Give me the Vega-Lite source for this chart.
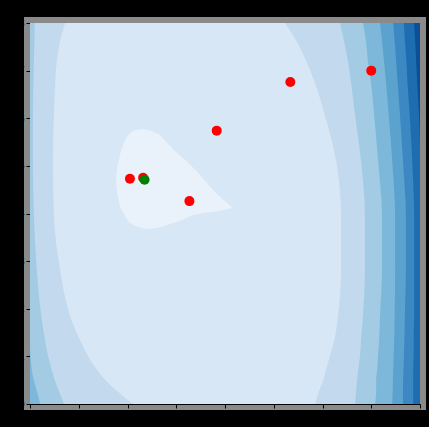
{
  "$schema": "https://vega.github.io/schema/vega-lite/v6.json",
  "width": 390,
  "height": 381,
  "autosize": {"type": "none"},
  "padding": {"left": 30, "top": 23, "right": 9, "bottom": 23},
  "background": "#000000",
  "title": {"text": "Objective surface with simplex points", "color": "#000000", "fontSize": 12, "fontWeight": "normal", "offset": 3},
  "config": {
    "view": {"stroke": "#8a8a8a", "strokeWidth": 12, "fill": "#0c4f97"},
    "axis": {"domainColor": "#000000", "tickColor": "#000000", "labelColor": "#000000", "tickSize": 4, "grid": false, "zindex": 1, "labelFontSize": 10}
  },
  "datasets": {
    "contours": [
      {"level": 8, "y": 8.0, "xl": 0, "xr": 8.1},
      {"level": 8, "y": 0.0, "xl": 0, "xr": 8.1},
      {"level": 7, "y": 8.0, "xl": 0, "xr": 7.88},
      {"level": 7, "y": 7.63, "xl": 0, "xr": 7.90},
      {"level": 7, "y": 7.21, "xl": 0, "xr": 7.92},
      {"level": 7, "y": 6.79, "xl": 0, "xr": 7.94},
      {"level": 7, "y": 6.06, "xl": 0, "xr": 7.98},
      {"level": 7, "y": 5.11, "xl": 0, "xr": 8.01},
      {"level": 7, "y": 3.96, "xl": 0, "xr": 8.05},
      {"level": 7, "y": 0.0, "xl": 0, "xr": 8.05},
      {"level": 6, "y": 8.0, "xl": 0, "xr": 7.67},
      {"level": 6, "y": 7.63, "xl": 0, "xr": 7.69},
      {"level": 6, "y": 7.21, "xl": 0, "xr": 7.72},
      {"level": 6, "y": 6.79, "xl": 0, "xr": 7.74},
      {"level": 6, "y": 6.06, "xl": 0, "xr": 7.79},
      {"level": 6, "y": 5.11, "xl": 0, "xr": 7.84},
      {"level": 6, "y": 3.96, "xl": 0, "xr": 7.88},
      {"level": 6, "y": 2.80, "xl": 0, "xr": 7.88},
      {"level": 6, "y": 1.86, "xl": 0, "xr": 7.88},
      {"level": 6, "y": 1.33, "xl": 0, "xr": 7.87},
      {"level": 6, "y": 1.01, "xl": 0, "xr": 7.87},
      {"level": 6, "y": 0.70, "xl": 0, "xr": 7.86},
      {"level": 6, "y": 0.0, "xl": 0, "xr": 7.86},
      {"level": 5, "y": 8.0, "xl": 0, "xr": 7.45},
      {"level": 5, "y": 7.63, "xl": 0, "xr": 7.48},
      {"level": 5, "y": 7.21, "xl": 0, "xr": 7.51},
      {"level": 5, "y": 6.79, "xl": 0, "xr": 7.54},
      {"level": 5, "y": 6.06, "xl": 0, "xr": 7.59},
      {"level": 5, "y": 5.11, "xl": 0, "xr": 7.65},
      {"level": 5, "y": 3.96, "xl": 0, "xr": 7.71},
      {"level": 5, "y": 2.80, "xl": 0, "xr": 7.71},
      {"level": 5, "y": 1.86, "xl": 0, "xr": 7.69},
      {"level": 5, "y": 1.33, "xl": 0, "xr": 7.68},
      {"level": 5, "y": 1.01, "xl": 0, "xr": 7.67},
      {"level": 5, "y": 0.70, "xl": 0, "xr": 7.66},
      {"level": 5, "y": 0.28, "xl": 0, "xr": 7.65},
      {"level": 5, "y": 0.0, "xl": 0, "xr": 7.65},
      {"level": 4, "y": 8.0, "xl": 0, "xr": 7.18},
      {"level": 4, "y": 7.63, "xl": 0, "xr": 7.22},
      {"level": 4, "y": 7.21, "xl": 0, "xr": 7.26},
      {"level": 4, "y": 6.79, "xl": 0, "xr": 7.30},
      {"level": 4, "y": 6.06, "xl": 0, "xr": 7.36},
      {"level": 4, "y": 5.11, "xl": 0, "xr": 7.43},
      {"level": 4, "y": 3.96, "xl": 0, "xr": 7.49},
      {"level": 4, "y": 2.80, "xl": 0, "xr": 7.49},
      {"level": 4, "y": 1.86, "xl": 0, "xr": 7.48},
      {"level": 4, "y": 1.33, "xl": 0, "xr": 7.47},
      {"level": 4, "y": 1.01, "xl": 0, "xr": 7.46},
      {"level": 4, "y": 0.70, "xl": 0, "xr": 7.45},
      {"level": 4, "y": 0.28, "xl": 0, "xr": 7.44},
      {"level": 4, "y": 0.0, "xl": 0, "xr": 7.43},
      {"level": 3, "y": 8.0, "xl": 0, "xr": 6.83},
      {"level": 3, "y": 7.63, "xl": 0, "xr": 6.89},
      {"level": 3, "y": 7.21, "xl": 0, "xr": 6.93},
      {"level": 3, "y": 6.79, "xl": 0, "xr": 6.99},
      {"level": 3, "y": 6.06, "xl": 0, "xr": 7.06},
      {"level": 3, "y": 5.11, "xl": 0, "xr": 7.14},
      {"level": 3, "y": 3.96, "xl": 0, "xr": 7.22},
      {"level": 3, "y": 2.80, "xl": 0, "xr": 7.22},
      {"level": 3, "y": 1.86, "xl": 0, "xr": 7.18},
      {"level": 3, "y": 1.33, "xl": 0, "xr": 7.16},
      {"level": 3, "y": 1.01, "xl": 0.01, "xr": 7.14},
      {"level": 3, "y": 0.70, "xl": 0.04, "xr": 7.12},
      {"level": 3, "y": 0.49, "xl": 0.08, "xr": 7.10},
      {"level": 3, "y": 0.28, "xl": 0.14, "xr": 7.10},
      {"level": 3, "y": 0.0, "xl": 0.21, "xr": 7.08},
      {"level": 2, "y": 8.0, "xl": 0.10, "xr": 6.36},
      {"level": 2, "y": 7.63, "xl": 0.09, "xr": 6.44},
      {"level": 2, "y": 7.21, "xl": 0.08, "xr": 6.52},
      {"level": 2, "y": 6.79, "xl": 0.07, "xr": 6.58},
      {"level": 2, "y": 6.06, "xl": 0.06, "xr": 6.67},
      {"level": 2, "y": 5.11, "xl": 0.06, "xr": 6.79},
      {"level": 2, "y": 3.96, "xl": 0.08, "xr": 6.87},
      {"level": 2, "y": 2.80, "xl": 0.14, "xr": 6.87},
      {"level": 2, "y": 1.86, "xl": 0.23, "xr": 6.83},
      {"level": 2, "y": 1.33, "xl": 0.31, "xr": 6.79},
      {"level": 2, "y": 1.01, "xl": 0.37, "xr": 6.77},
      {"level": 2, "y": 0.70, "xl": 0.45, "xr": 6.73},
      {"level": 2, "y": 0.49, "xl": 0.51, "xr": 6.71},
      {"level": 2, "y": 0.28, "xl": 0.59, "xr": 6.69},
      {"level": 2, "y": 0.0, "xl": 0.70, "xr": 6.67},
      {"level": 1, "y": 8.0, "xl": 0.72, "xr": 5.23},
      {"level": 1, "y": 7.63, "xl": 0.62, "xr": 5.46},
      {"level": 1, "y": 7.21, "xl": 0.55, "xr": 5.66},
      {"level": 1, "y": 6.79, "xl": 0.52, "xr": 5.83},
      {"level": 1, "y": 6.06, "xl": 0.49, "xr": 6.05},
      {"level": 1, "y": 5.11, "xl": 0.47, "xr": 6.28},
      {"level": 1, "y": 3.96, "xl": 0.49, "xr": 6.38},
      {"level": 1, "y": 2.80, "xl": 0.62, "xr": 6.38},
      {"level": 1, "y": 1.86, "xl": 0.82, "xr": 6.32},
      {"level": 1, "y": 1.33, "xl": 1.03, "xr": 6.24},
      {"level": 1, "y": 1.01, "xl": 1.19, "xr": 6.15},
      {"level": 1, "y": 0.70, "xl": 1.39, "xr": 6.07},
      {"level": 1, "y": 0.49, "xl": 1.56, "xr": 6.01},
      {"level": 1, "y": 0.28, "xl": 1.78, "xr": 5.93},
      {"level": 1, "y": 0.0, "xl": 2.11, "xr": 5.85},
      {"level": 0, "y": 5.77, "xl": 2.26, "xr": 2.34},
      {"level": 0, "y": 5.74, "xl": 2.13, "xr": 2.46},
      {"level": 0, "y": 5.68, "xl": 2.05, "xr": 2.61},
      {"level": 0, "y": 5.53, "xl": 1.95, "xr": 2.77},
      {"level": 0, "y": 5.32, "xl": 1.87, "xr": 2.97},
      {"level": 0, "y": 5.11, "xl": 1.82, "xr": 3.20},
      {"level": 0, "y": 4.90, "xl": 1.78, "xr": 3.41},
      {"level": 0, "y": 4.69, "xl": 1.77, "xr": 3.59},
      {"level": 0, "y": 4.48, "xl": 1.78, "xr": 3.77},
      {"level": 0, "y": 4.31, "xl": 1.81, "xr": 3.94},
      {"level": 0, "y": 4.19, "xl": 1.84, "xr": 4.08},
      {"level": 0, "y": 4.12, "xl": 1.86, "xr": 4.14},
      {"level": 0, "y": 4.08, "xl": 1.88, "xr": 4.00},
      {"level": 0, "y": 4.00, "xl": 1.93, "xr": 3.49},
      {"level": 0, "y": 3.85, "xl": 2.01, "xr": 3.08},
      {"level": 0, "y": 3.78, "xl": 2.09, "xr": 2.87},
      {"level": 0, "y": 3.71, "xl": 2.24, "xr": 2.67},
      {"level": 0, "y": 3.68, "xl": 2.36, "xr": 2.50}
    ],
    "points": [
      {"x": 2.05, "y": 4.73, "kind": "red"},
      {"x": 2.32, "y": 4.75, "kind": "red"},
      {"x": 3.27, "y": 4.26, "kind": "red"},
      {"x": 3.83, "y": 5.74, "kind": "red"},
      {"x": 5.34, "y": 6.76, "kind": "red"},
      {"x": 7.00, "y": 7.00, "kind": "red"},
      {"x": 2.35, "y": 4.71, "kind": "green"}
    ]
  },
  "layer": [
    {
      "data": {"name": "contours"},
      "transform": [{"filter": "datum.level == 8"}],
      "mark": {"type": "area", "orient": "horizontal", "clip": true, "color": "#0c4f97"},
      "encoding": {
        "y": {"field": "y", "type": "quantitative", "scale": {"domain": [0, 8], "nice": false, "zero": false}, "axis": {"title": null, "values": [0, 1, 2, 3, 4, 5, 6, 7, 8]}},
        "x": {"field": "xl", "type": "quantitative", "scale": {"domain": [0, 8], "nice": false, "zero": false}, "axis": {"title": null, "values": [0, 1, 2, 3, 4, 5, 6, 7, 8]}},
        "x2": {"field": "xr"}
      }
    },
    {
      "data": {"name": "contours"},
      "transform": [{"filter": "datum.level == 7"}],
      "mark": {"type": "area", "orient": "horizontal", "clip": true, "color": "#1f6db1", "interpolate": "monotone"},
      "encoding": {"y": {"field": "y", "type": "quantitative"}, "x": {"field": "xl", "type": "quantitative"}, "x2": {"field": "xr"}}
    },
    {
      "data": {"name": "contours"},
      "transform": [{"filter": "datum.level == 6"}],
      "mark": {"type": "area", "orient": "horizontal", "clip": true, "color": "#3b88c3", "interpolate": "monotone"},
      "encoding": {"y": {"field": "y", "type": "quantitative"}, "x": {"field": "xl", "type": "quantitative"}, "x2": {"field": "xr"}}
    },
    {
      "data": {"name": "contours"},
      "transform": [{"filter": "datum.level == 5"}],
      "mark": {"type": "area", "orient": "horizontal", "clip": true, "color": "#5ba2cf", "interpolate": "monotone"},
      "encoding": {"y": {"field": "y", "type": "quantitative"}, "x": {"field": "xl", "type": "quantitative"}, "x2": {"field": "xr"}}
    },
    {
      "data": {"name": "contours"},
      "transform": [{"filter": "datum.level == 4"}],
      "mark": {"type": "area", "orient": "horizontal", "clip": true, "color": "#7db8da", "interpolate": "monotone"},
      "encoding": {"y": {"field": "y", "type": "quantitative"}, "x": {"field": "xl", "type": "quantitative"}, "x2": {"field": "xr"}}
    },
    {
      "data": {"name": "contours"},
      "transform": [{"filter": "datum.level == 3"}],
      "mark": {"type": "area", "orient": "horizontal", "clip": true, "color": "#a3cbe3", "interpolate": "monotone"},
      "encoding": {"y": {"field": "y", "type": "quantitative"}, "x": {"field": "xl", "type": "quantitative"}, "x2": {"field": "xr"}}
    },
    {
      "data": {"name": "contours"},
      "transform": [{"filter": "datum.level == 2"}],
      "mark": {"type": "area", "orient": "horizontal", "clip": true, "color": "#c2d9ee", "interpolate": "monotone"},
      "encoding": {"y": {"field": "y", "type": "quantitative"}, "x": {"field": "xl", "type": "quantitative"}, "x2": {"field": "xr"}}
    },
    {
      "data": {"name": "contours"},
      "transform": [{"filter": "datum.level == 1"}],
      "mark": {"type": "area", "orient": "horizontal", "clip": true, "color": "#d8e7f5", "interpolate": "monotone"},
      "encoding": {"y": {"field": "y", "type": "quantitative"}, "x": {"field": "xl", "type": "quantitative"}, "x2": {"field": "xr"}}
    },
    {
      "data": {"name": "contours"},
      "transform": [{"filter": "datum.level == 0"}],
      "mark": {"type": "area", "orient": "horizontal", "clip": true, "color": "#e9f2fa", "interpolate": "monotone"},
      "encoding": {"y": {"field": "y", "type": "quantitative"}, "x": {"field": "xl", "type": "quantitative"}, "x2": {"field": "xr"}}
    },
    {
      "data": {"name": "points"},
      "transform": [{"filter": "datum.kind == 'red'"}],
      "mark": {"type": "circle", "color": "#ff0000", "opacity": 1, "size": 100},
      "encoding": {"x": {"field": "x", "type": "quantitative"}, "y": {"field": "y", "type": "quantitative"}}
    },
    {
      "data": {"name": "points"},
      "transform": [{"filter": "datum.kind == 'green'"}],
      "mark": {"type": "circle", "color": "#008000", "opacity": 1, "size": 100},
      "encoding": {"x": {"field": "x", "type": "quantitative"}, "y": {"field": "y", "type": "quantitative"}}
    }
  ]
}
